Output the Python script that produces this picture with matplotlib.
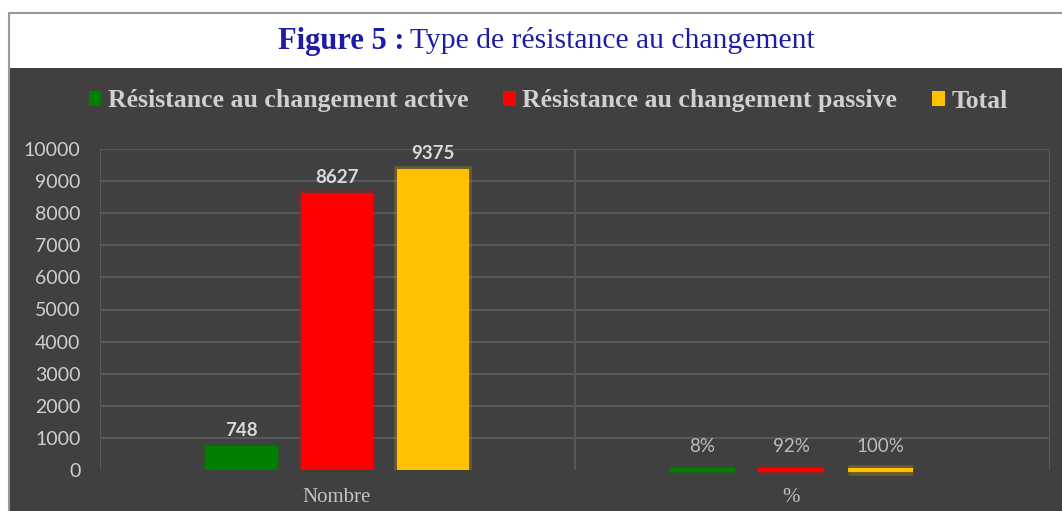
import matplotlib
matplotlib.use("Agg")
import matplotlib.pyplot as plt
import matplotlib.patches as patches
import matplotlib.patheffects as pe

# --- données ---
categories = ["Nombre", "%"]
series_names = ["Résistance au changement active",
                "Résistance au changement passive",
                "Total"]
series_colors = ["#008000", "#ff0000", "#ffc000"]
nombre_values = [748, 8627, 9375]
pct_values = [0.08, 0.92, 1.00]
y_ticks = [0, 1000, 2000, 3000, 4000, 5000, 6000, 7000, 8000, 9000, 10000]

W, H = 1062, 511
fig = plt.figure(figsize=(W / 100, H / 100), dpi=100, facecolor="white")

# fond sombre + cadre
fig.patches.append(patches.Rectangle((10 / W, 0), 1 - 10 / W, 1 - 68 / H,
                                     transform=fig.transFigure,
                                     facecolor="#404040", edgecolor="none",
                                     zorder=-2))
fig.patches.append(patches.Rectangle((9 / W, -0.01), 1.1, 1.01 - 13 / H,
                                     transform=fig.transFigure,
                                     facecolor="none", edgecolor="#9a9a9a",
                                     linewidth=1.5, zorder=-1))

# titre
title_color = "#1c1ca8"
fig.text(404 / W, 1 - 41 / H, "Figure 5 :", ha="right", va="center",
         fontsize=22, fontweight="bold", family="Liberation Serif",
         color=title_color)
fig.text(410 / W, 1 - 41 / H, "Type de résistance au changement",
         ha="left", va="center", fontsize=21.3, family="Liberation Serif",
         color=title_color)

ax = fig.add_axes([100 / W, 1 - 470 / H, 950 / W, 321 / H])
ax.set_facecolor("none")

x_pos = [0, 1]
offsets = [-0.211, 0, 0.211]
bar_w = 0.16

for i, name in enumerate(series_names):
    c = series_colors[i]
    glow = [pe.Stroke(linewidth=4, foreground=c, alpha=0.22), pe.Normal()]
    b1 = ax.bar(x_pos[0] + offsets[i], nombre_values[i], width=bar_w,
                color=c, zorder=3)
    b2 = ax.bar(x_pos[1] + offsets[i] * 0.93, pct_values[i], width=bar_w * 0.9,
                color=c, edgecolor=c, linewidth=3, zorder=3, clip_on=False)
    for p in b1:
        p.set_path_effects(glow)
    for p in b2:
        p.set_path_effects([pe.Stroke(linewidth=8, foreground=c, alpha=0.2),
                            pe.Normal()])
    ax.bar_label(b1, labels=[f"{nombre_values[i]}"], padding=5,
                 color="#d9d9d9", fontsize=13.5, fontweight="bold",
                 family="Lato")
    ax.bar_label(b2, labels=[f"{round(pct_values[i] * 100)}%"], padding=11,
                 color="#bdbdbd", fontsize=13.5, family="Lato")

ax.set_ylim(0, 10000)
ax.set_xlim(-0.522, 1.570)
ax.set_yticks(y_ticks)
ax.set_yticklabels([str(v) for v in y_ticks], family="Lato", fontsize=14,
                   color="#cfcfcf")
ax.set_xticks(x_pos)
ax.set_xticklabels(categories, family="Liberation Serif", fontsize=15,
                   color="#c4c4c4")
ax.set_xticks([-0.522, 0.524, 1.570], minor=True)
ax.tick_params(axis="both", which="both", length=0)
ax.tick_params(axis="y", pad=14)
ax.tick_params(axis="x", pad=13)
for s in ax.spines.values():
    s.set_visible(False)
ax.grid(axis="y", color="#585858", linewidth=1.5, zorder=0)
ax.grid(axis="x", which="minor", color="#585858", linewidth=1.5, zorder=0)
ax.grid(axis="x", which="major", visible=False)
ax.yaxis.get_gridlines()[0].set_visible(False)
ax.set_axisbelow(True)

handles = [patches.Patch(facecolor=c, edgecolor="none") for c in series_colors]
fig.legend(handles=handles, labels=series_names, loc="center",
           bbox_to_anchor=(548 / W, 1 - 101 / H), ncol=3, frameon=False,
           handlelength=0.5, handleheight=0.5, handletextpad=0.25,
           columnspacing=1.35, labelcolor="#d0d0d0",
           prop=dict(family="Liberation Serif", weight="bold", size=18.5))

fig.savefig("out.png", dpi=100, facecolor="white")
